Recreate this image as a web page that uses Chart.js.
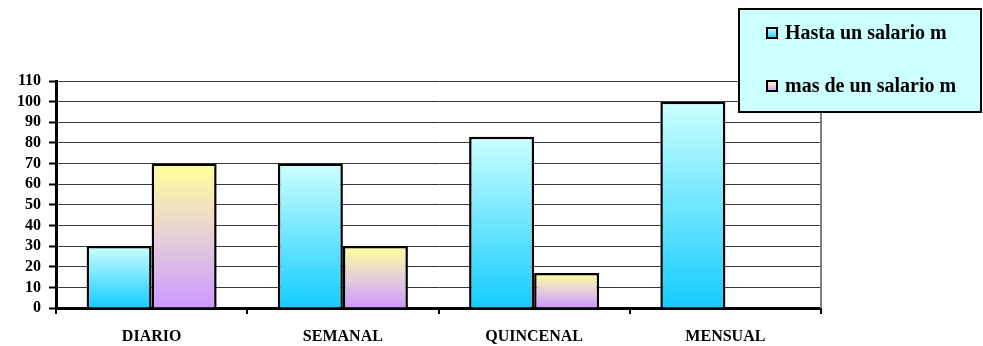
<!DOCTYPE html>
<html>
<head>
<meta charset="utf-8">
<script src="https://cdn.jsdelivr.net/npm/chart.js@4/dist/chart.umd.min.js"></script>
<style>
  html, body { margin: 0; padding: 0; background: #fff; }
  #wrap { width: 983px; height: 346px; position: relative; }
</style>
</head>
<body>
<div id="wrap"><canvas id="c" width="983" height="346"></canvas></div>
<script>
const categories = ['DIARIO', 'SEMANAL', 'QUINCENAL', 'MENSUAL'];
const seriesNames = ['Hasta un salario m', 'mas de un salario m'];
const hastaUnSalario = [30, 70, 83, 100];
const masDeUnSalario = [70, 30, 17, 0];
const yTicks = { min: 0, max: 110, step: 10 };

const FONT = '"Liberation Serif", "Times New Roman", serif';

// colour stops for each series, top of bar to bottom of bar
const stops = [
  [[0, '#ccffff'], [1, '#14ccff']],
  [[0, '#ffff99'], [0.5, '#e6d0d8'], [1, '#cc99ff']]
];

function barGradient(ctx, y0, y1, s) {
  const g = ctx.createLinearGradient(0, y0, 0, y1);
  stops[s].forEach(([o, c]) => g.addColorStop(o, c));
  return g;
}

function fillFor(s) {
  return function (context) {
    const chart = context.chart;
    if (!chart.chartArea || context.type !== 'data') return stops[s][0][1];
    const y = chart.scales.y;
    const top = y.getPixelForValue(context.raw);
    const bottom = y.getPixelForValue(0);
    if (bottom - top < 1) return stops[s][0][1];
    return barGradient(chart.ctx, top, bottom, s);
  };
}

// right edge of the plot frame
const frameRight = {
  id: 'frameRight',
  beforeDatasetsDraw(chart) {
    const { ctx, chartArea: a } = chart;
    ctx.save();
    ctx.strokeStyle = '#808080';
    ctx.lineWidth = 2;
    ctx.beginPath();
    ctx.moveTo(a.right, a.top);
    ctx.lineTo(a.right, a.bottom);
    ctx.stroke();
    ctx.restore();
  }
};

// boxed legend in the upper right corner
const boxLegend = {
  id: 'boxLegend',
  afterDraw(chart) {
    const { ctx } = chart;
    ctx.save();
    ctx.fillStyle = '#ccffff';
    ctx.fillRect(738, 8, 244, 105);
    ctx.strokeStyle = '#000';
    ctx.lineWidth = 2;
    ctx.strokeRect(739, 9, 242, 103);
    const rows = [33, 86];
    chart.data.datasets.forEach((ds, i) => {
      const cy = rows[i];
      ctx.fillStyle = barGradient(ctx, cy - 5, cy + 5, i);
      ctx.fillRect(767, cy - 5, 10, 10);
      ctx.strokeStyle = '#000';
      ctx.lineWidth = 2;
      ctx.strokeRect(767, cy - 5, 10, 10);
      ctx.fillStyle = '#000';
      ctx.font = 'bold 20px ' + FONT;
      ctx.textBaseline = 'middle';
      ctx.textAlign = 'left';
      ctx.fillText(ds.label, 785, cy + 1);
    });
    ctx.restore();
  }
};

new Chart(document.getElementById('c'), {
  type: 'bar',
  data: {
    labels: categories,
    datasets: [
      {
        label: seriesNames[0],
        data: hastaUnSalario,
        backgroundColor: fillFor(0),
        borderColor: '#000',
        borderWidth: 2.5,
        borderSkipped: 'start',
        categoryPercentage: 0.68,
        barPercentage: 1
      },
      {
        label: seriesNames[1],
        data: masDeUnSalario,
        backgroundColor: fillFor(1),
        borderColor: '#000',
        borderWidth: 2.5,
        borderSkipped: 'start',
        categoryPercentage: 0.68,
        barPercentage: 1
      }
    ]
  },
  options: {
    responsive: false,
    animation: false,
    layout: { padding: { left: 0, right: 162, top: 81, bottom: 0 } },
    plugins: { legend: { display: false }, tooltip: { enabled: false } },
    scales: {
      x: {
        offset: true,
        grid: {
          offset: true,
          drawOnChartArea: false,
          drawTicks: true,
          tickLength: 6,
          color: '#000',
          lineWidth: 2
        },
        border: { color: '#000', width: 3 },
        ticks: {
          color: '#000',
          font: { family: FONT, size: 16, weight: 'bold' },
          padding: 13,
          maxRotation: 0,
          autoSkip: false
        },
        afterFit(s) { s.height = 38; }
      },
      y: {
        min: yTicks.min,
        max: yTicks.max,
        ticks: {
          stepSize: yTicks.step,
          color: '#000',
          font: { family: FONT, size: 16, weight: 'bold' },
          padding: 8,
          autoSkip: false
        },
        grid: {
          color: '#3a3a3a',
          lineWidth: 1,
          drawTicks: true,
          tickLength: 7,
          tickColor: '#000',
          tickWidth: 2
        },
        border: { color: '#000', width: 3 },
        afterFit(s) { s.width = 56; }
      }
    }
  },
  plugins: [frameRight, boxLegend]
});
</script>
</body>
</html>
